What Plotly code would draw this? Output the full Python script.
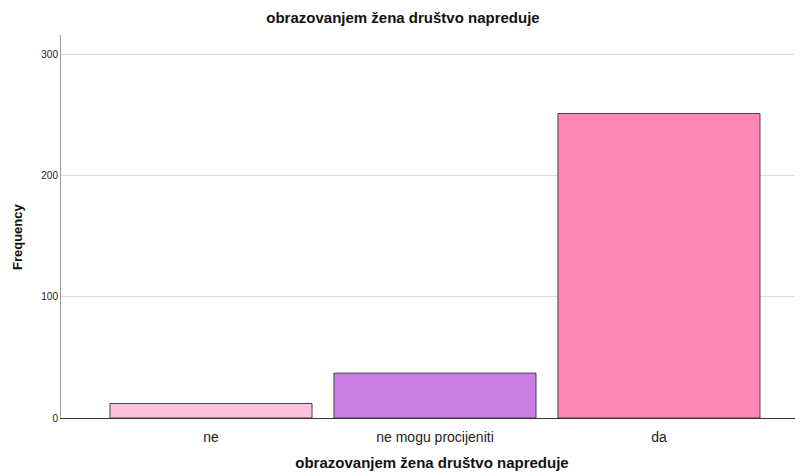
import plotly.graph_objects as go

categories = ["ne", "ne mogu procijeniti", "da"]
frequencies = [12, 37, 251]
bar_colors = ["#FDC1E0", "#CA7EE5", "#FF85B5"]
y_ticks = [0, 100, 200, 300]
title_text = "obrazovanjem žena društvo napreduje"

# The page places the figure 8px in from the top-left corner, so the
# figure is sized to the visible window remaining.
W, H = 795, 465
L, T, B = 53, 27, 55
plot_w, plot_h = W - L, H - T - B

fig = go.Figure()
fig.add_trace(go.Bar(
    x=categories, y=frequencies,
    marker=dict(color=bar_colors, line=dict(color="#444444", width=1)),
))

font_family = "Liberation Sans, Arial, sans-serif"
fig.update_layout(
    width=W, height=H,
    margin=dict(l=L, r=0, t=T, b=B, pad=0),
    paper_bgcolor="white", plot_bgcolor="white",
    bargap=0.098,
    showlegend=False,
    font=dict(family=font_family, color="#222222"),
    title=dict(text="<b>" + title_text + "</b>", x=395 / W, xanchor="center",
               y=1 - 10 / H, yanchor="middle", font=dict(size=15, color="#111111")),
    xaxis=dict(
        type="category", range=[-0.6696, 2.643],
        showline=True, linecolor="#333333", linewidth=1,
        showgrid=False, ticks="", tickfont=dict(size=14, color="#222222"),
        ticklabelstandoff=6,
        title=dict(text="<b>" + title_text + "</b>", font=dict(size=15, color="#111111"), standoff=13),
        zeroline=False,
    ),
    yaxis=dict(
        range=[0, 315.7], tickvals=y_ticks,
        showline=True, linecolor="#999999", linewidth=1,
        showgrid=True, gridcolor="#D9D9D9", gridwidth=1,
        ticks="", tickfont=dict(size=10, color="#222222"),
        zeroline=False,
    ),
    annotations=[dict(
        text="<b>Frequency</b>", textangle=-90,
        xref="paper", yref="paper", x=(9 - L) / plot_w, y=(410 - 229) / plot_h,
        xanchor="center", yanchor="middle", showarrow=False,
        font=dict(size=13, color="#111111"),
    )],
)

fig.write_html("out.html")
